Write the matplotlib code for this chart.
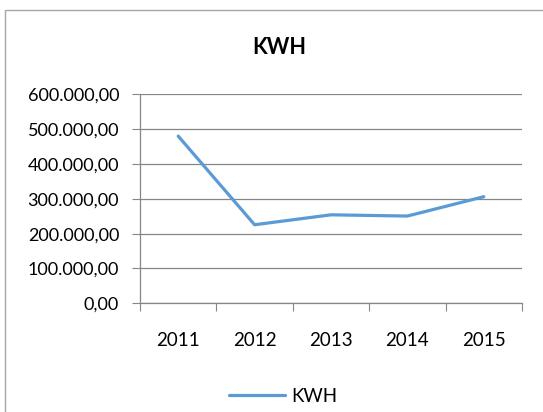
import matplotlib
matplotlib.use("Agg")
import matplotlib.pyplot as plt
from matplotlib.patches import Rectangle

years = ["2011", "2012", "2013", "2014", "2015"]
kwh = [480000, 225500, 254000, 250500, 306000]
y_ticks = [0, 100000, 200000, 300000, 400000, 500000, 600000]
y_labels = ["0,00", "100.000,00", "200.000,00", "300.000,00",
            "400.000,00", "500.000,00", "600.000,00"]

plt.rcParams['font.family'] = ['Lato', 'DejaVu Sans']

fig = plt.figure(figsize=(5.43, 4.12), dpi=100)
fig.patch.set_facecolor('white')
fig.patches.append(Rectangle((5/543, -0.1), 1.2, 1 - 10/412 + 0.1,
                             transform=fig.transFigure, fill=False,
                             edgecolor='#A6A6A6', linewidth=1.0))

ax = fig.add_axes([140/543, 1 - 303.3/412, (522 - 140)/543, (303.3 - 94.3)/412])
x = list(range(len(years)))
line, = ax.plot(x, kwh, color='#5B9BD5', linewidth=2.3, solid_capstyle='round',
                label='KWH')

ax.set_xlim(-0.5, len(years) - 0.5)
ax.set_ylim(0, 600000)
ax.set_yticks(y_ticks)
ax.set_yticklabels(y_labels, fontsize=13)
ax.yaxis.grid(True, color='#868686', linewidth=0.9)
ax.set_axisbelow(True)

ax.set_xticks([i - 0.5 for i in range(len(years) + 1)])
ax.set_xticklabels([])
ax.set_xticks(x, minor=True)
ax.set_xticklabels(years, minor=True, fontsize=13.5)
ax.tick_params(axis='x', which='major', length=6, color='#868686', direction='out')
ax.tick_params(axis='x', which='minor', length=0, pad=21)
ax.tick_params(axis='y', length=6, color='#868686', direction='out', pad=9)

for s in ['top', 'right']:
    ax.spines[s].set_visible(False)
for s in ['left', 'bottom']:
    ax.spines[s].set_color('#868686')
    ax.spines[s].set_linewidth(0.9)

fig.text(279/543, 1 - 48/412, "KWH", ha='center', va='center',
         fontsize=15.5, fontweight='bold')

fig.legend(handles=[line], loc='center', bbox_to_anchor=(283/543, 1 - 396/412),
           frameon=False, fontsize=13.5, handlelength=3.0, handletextpad=0.3)

fig.savefig("out.png", dpi=100, facecolor='white')
